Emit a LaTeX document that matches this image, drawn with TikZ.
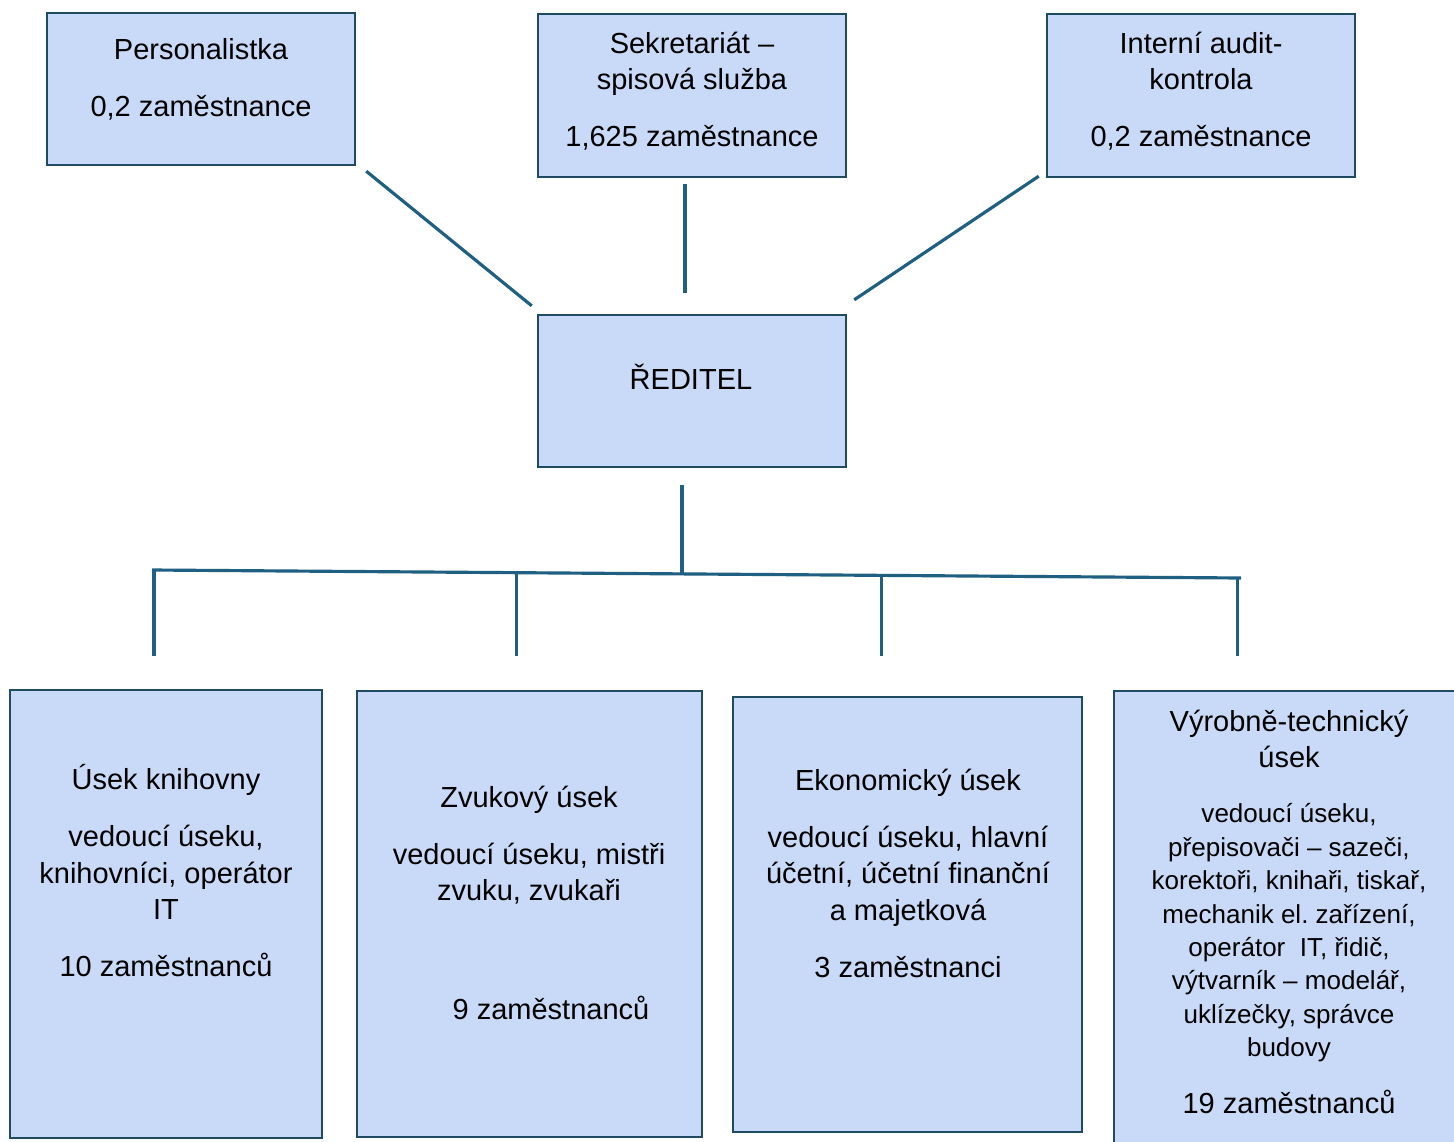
\documentclass[tikz,border=0pt]{standalone}
\usepackage{fontspec}
\setmainfont{Liberation Sans}
\usetikzlibrary{calc}
\definecolor{boxfill}{HTML}{C9DAF8}
\definecolor{boxedge}{HTML}{1E4B62}
\definecolor{connline}{HTML}{1F5F82}
\begin{document}
\begin{tikzpicture}[x=0.01cm, y=-0.01cm,
    unitbox/.style={draw=boxedge, fill=boxfill, line width=0.65pt, inner sep=0pt},
    conn/.style={draw=connline, line width=0.9pt},
    lbl/.style={anchor=north, inner sep=0pt, align=center, font=\fontsize{8.25}{10.4}\selectfont},
    smalllbl/.style={lbl, font=\fontsize{7.4}{9.5}\selectfont}]
    \useasboundingbox (0,0) rectangle (1454,1142);

    % top row
    \node [unitbox, minimum width=3.08cm, minimum height=1.52cm] (pers) at (201,89) {};
    \node [unitbox, minimum width=3.08cm, minimum height=1.63cm] (sekr) at (692,95.5) {};
    \node [unitbox, minimum width=3.08cm, minimum height=1.63cm] (audit) at (1201,95.5) {};
    \node [lbl] (pers-t) at (201,38) {Personalistka\\[5.8pt]0,2 zaměstnance};
    \node [lbl] (sekr-t) at (692,31) {Sekretariát –\\spisová služba\\[5.8pt]1,625 zaměstnance};
    \node [lbl] (audit-t) at (1201,31) {Interní audit-\\kontrola\\[5.8pt]0,2 zaměstnance};

    % director
    \node [unitbox, minimum width=3.08cm, minimum height=1.52cm] (reditel) at (692,391) {};
    \node [lbl] (reditel-t) at (691,363) {ŘEDITEL};

    % sections
    \node [unitbox, minimum width=3.12cm, minimum height=4.48cm] (knih) at (166,914) {};
    \node [unitbox, minimum width=3.45cm, minimum height=4.46cm] (zvuk) at (529.5,914) {};
    \node [unitbox, minimum width=3.49cm, minimum height=4.35cm] (ekon) at (907.5,914.5) {};
    \node [unitbox, minimum width=3.50cm, minimum height=4.60cm] (vyrob) at (1289,921) {};

    \node [lbl] (knih-t) at (166,764) {Úsek knihovny\\[5.8pt]vedoucí úseku,\\knihovníci, operátor\\IT\\[5.8pt]10 zaměstnanců};
    \node [lbl] (zvuk-t) at (529,785) {Zvukový úsek\\[5.8pt]vedoucí úseku, mistři\\zvuku, zvukaři};
    \node [lbl] (zvuk-n) at (551,995) {9 zaměstnanců};
    \node [lbl] (ekon-t) at (908,768) {Ekonomický úsek\\[5.8pt]vedoucí úseku, hlavní\\účetní, účetní finanční\\a majetková\\[5.8pt]3 zaměstnanci};
    \node [lbl] (vyrob-t) at (1289,709) {Výrobně-technický\\úsek};
    \node [smalllbl] (vyrob-l) at (1289,803) {vedoucí úseku,\\přepisovači – sazeči,\\korektoři, knihaři, tiskař,\\mechanik el.\ zařízení,\\operátor\ \ IT, řidič,\\výtvarník – modelář,\\uklízečky, správce\\budovy};
    \node [lbl] (vyrob-n) at (1289,1089) {19 zaměstnanců};

    % connectors
    \draw [conn] ([shift={(10,5)}]pers.south east) -- ([shift={(-5,-8)}]reditel.north west);
    \draw [conn] ([shift={(-7,6)}]sekr.south) -- ([shift={(-7,-21)}]reditel.north);
    \draw [conn] ([shift={(-7,-2)}]audit.south west) -- ([shift={(7,-14)}]reditel.north east);

    \coordinate (busL) at (152,570);
    \coordinate (busR) at (1241,578);
    \coordinate (trunk) at ($(busL)!0.4867!(busR)$);
    \draw [conn] (busL) -- (busR);
    \draw [conn, shorten <=0.17cm] (reditel.south -| trunk) -- (trunk);
    \foreach \t/\b/\s in {0.0018/knih/0.33, 0.335/zvuk/0.34, 0.670/ekon/0.40, 0.997/vyrob/0.34}
        \draw [conn, shorten >=\s cm] ($(busL)!\t!(busR)$) coordinate (drop) -- (drop |- \b.north);
\end{tikzpicture}
\end{document}
